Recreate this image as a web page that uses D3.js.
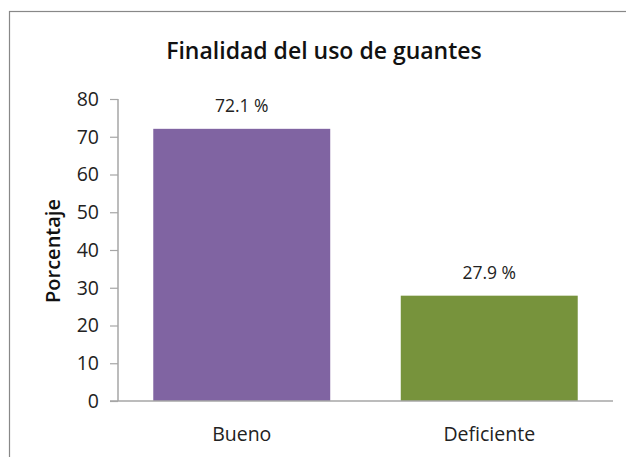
<!DOCTYPE html>
<html><head><meta charset="utf-8">
<script src="https://cdn.jsdelivr.net/npm/d3@7"></script>
<style>body{margin:0;background:#fff}svg{display:block}text{font-family:"Open Sans",sans-serif;fill:#222}</style>
</head><body><div id="c"></div>
<script>
const categories = ["Bueno", "Deficiente"];
const values = [72.1, 27.9];
const labels = ["72.1 %", "27.9 %"];
const colors = ["#8064A2", "#77933C"];
const yTicks = [0, 10, 20, 30, 40, 50, 60, 70, 80];
const title = "Finalidad del uso de guantes";
const yTitle = "Porcentaje";

const W = 626, H = 457;
const svg = d3.select("#c").append("svg").attr("width", W).attr("height", H);
svg.append("rect").attr("x", 9.5).attr("y", 11.5).attr("width", 640).attr("height", 470)
  .attr("fill", "#fff").attr("stroke", "#888").attr("stroke-width", 1.2);

const m = {left: 118, right: 613, top: 99, bottom: 401};
const x = d3.scaleBand().domain(categories).range([m.left, m.right]).paddingInner(0.285).paddingOuter(0.1425);
const y = d3.scaleLinear().domain([0, 80]).range([m.bottom, m.top]);

svg.append("text").attr("x", 324).attr("y", 59).attr("text-anchor", "middle")
  .style("font-size", "23px").style("font-weight", 600).style("fill", "#111").text(title);

const ya = svg.append("g").attr("transform", `translate(${m.left},0)`)
  .call(d3.axisLeft(y).tickValues(yTicks).tickSize(8).tickPadding(11));
ya.select(".domain").attr("stroke", "#a6a6a6").attr("stroke-width", 1.5).attr("d", `M0,${m.top}V${m.bottom}`);
ya.selectAll(".tick line").attr("stroke", "#a6a6a6").attr("stroke-width", 1.2);
ya.selectAll(".tick text").style("font-size", "19.5px").style("fill", "#222").attr("font-family", null);

svg.append("text").attr("transform", `translate(60,251) rotate(-90)`).attr("text-anchor", "middle")
  .style("font-size", "20px").style("font-weight", 600).style("fill", "#111").text(yTitle);

svg.selectAll("rect.bar").data(categories).enter().append("rect").attr("class", "bar")
  .attr("x", d => x(d)).attr("width", x.bandwidth())
  .attr("y", (d, i) => y(values[i])).attr("height", (d, i) => y(0) - y(values[i]))
  .attr("fill", (d, i) => colors[i]);

svg.append("line").attr("x1", m.left - 8).attr("x2", m.right).attr("y1", y(0)).attr("y2", y(0))
  .attr("stroke", "#a6a6a6").attr("stroke-width", 1.5);

svg.selectAll("text.val").data(categories).enter().append("text").attr("class", "val")
  .attr("x", d => x(d) + x.bandwidth() / 2).attr("y", (d, i) => y(values[i]) - 17)
  .attr("text-anchor", "middle").style("font-size", "17.5px").text((d, i) => labels[i]);

svg.selectAll("text.cat").data(categories).enter().append("text").attr("class", "cat")
  .attr("x", d => x(d) + x.bandwidth() / 2).attr("y", 441)
  .attr("text-anchor", "middle").style("font-size", "19.5px").text(d => d);
</script></body></html>
